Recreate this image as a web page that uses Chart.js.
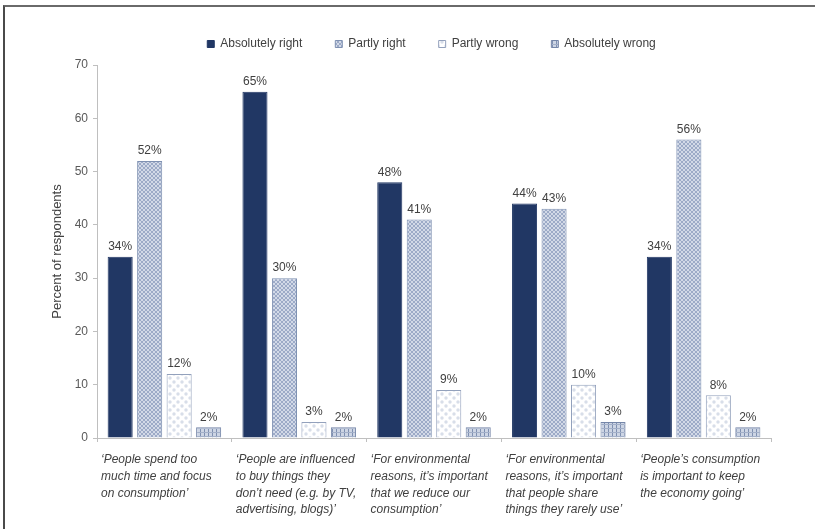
<!DOCTYPE html>
<html>
<head>
<meta charset="utf-8">
<script src="https://cdn.jsdelivr.net/npm/chart.js@4.4.1/dist/chart.umd.min.js"></script>
<style>
html, body { margin: 0; padding: 0; background: #fff; }
#wrap { position: relative; width: 815px; height: 529px; overflow: hidden; }
#wrap canvas { position: absolute; left: 0; top: 0; }
#frame { position: absolute; left: 3px; top: 5px; right: -2px; bottom: -2px;
         border-left: 2px solid #4a4a4a; border-top: 2px solid #6a6a6a; pointer-events: none; }
</style>
</head>
<body>
<div id="wrap">
  <canvas id="myBarChart" width="815" height="529"></canvas>
  <div id="frame"></div>
</div>
<script>
const categories = [
    ['‘People spend too', 'much time and focus', 'on consumption’'],
    ['‘People are influenced', 'to buy things they', 'don’t need (e.g. by TV,', 'advertising, blogs)’'],
    ['‘For environmental', 'reasons, it’s important', 'that we reduce our', 'consumption’'],
    ['‘For environmental', 'reasons, it’s important', 'that people share', 'things they rarely use’'],
    ['‘People’s consumption', 'is important to keep', 'the economy going’']
];
const seriesNames = ['Absolutely right', 'Partly right', 'Partly wrong', 'Absolutely wrong'];
const absolutelyRight = [34, 65, 48, 44, 34];
const partlyRight = [52, 30, 41, 43, 56];
const partlyWrong = [12, 3, 9, 10, 8];
const absolutelyWrong = [2, 2, 2, 3, 2];
const yTicks = [0, 10, 20, 30, 40, 50, 60, 70];

function makePattern(kind) {
    const c = document.createElement('canvas');
    const p = c.getContext('2d');
    if (kind === 'cross') {
        c.width = c.height = 4;
        p.fillStyle = '#d2d9e7';
        p.fillRect(0, 0, 4, 4);
        p.strokeStyle = '#95a5c3';
        p.lineWidth = 0.9;
        p.beginPath();
        p.moveTo(0, 0); p.lineTo(4, 4);
        p.moveTo(4, 0); p.lineTo(0, 4);
        p.stroke();
    } else if (kind === 'dots') {
        c.width = c.height = 8;
        p.fillStyle = '#ffffff';
        p.fillRect(0, 0, 8, 8);
        p.fillStyle = '#d8dee9';
        p.beginPath(); p.arc(2, 2, 1.7, 0, Math.PI * 2); p.fill();
        p.beginPath(); p.arc(6, 6, 1.7, 0, Math.PI * 2); p.fill();
    } else {
        c.width = c.height = 4;
        p.fillStyle = '#cdd5e4';
        p.fillRect(0, 0, 4, 4);
        p.fillStyle = '#7f90b1';
        p.fillRect(0, 0, 1, 4);
        p.fillStyle = '#a3b0c9';
        p.fillRect(0, 0, 4, 1);
    }
    return p.createPattern(c, 'repeat');
}

// percentage above each bar
const valueLabels = {
    id: 'valueLabels',
    afterDatasetsDraw(chart) {
        const ctx = chart.ctx;
        ctx.save();
        ctx.font = '12px "Liberation Sans", Arial, sans-serif';
        ctx.fillStyle = '#404040';
        ctx.textAlign = 'center';
        ctx.textBaseline = 'bottom';
        chart.data.datasets.forEach((ds, i) => {
            chart.getDatasetMeta(i).data.forEach((bar, j) => {
                ctx.fillText(ds.data[j] + '%', bar.x, bar.y - 4);
            });
        });
        ctx.restore();
    }
};

// italic statements under each group, left aligned to the group
const categoryLabels = {
    id: 'categoryLabels',
    afterDraw(chart) {
        const xs = chart.scales.x;
        const ctx = chart.ctx;
        const step = xs.width / chart.data.labels.length;
        ctx.save();
        ctx.font = 'italic 12px "Liberation Sans", Arial, sans-serif';
        ctx.fillStyle = '#404040';
        ctx.textAlign = 'left';
        ctx.textBaseline = 'middle';
        chart.data.labels.forEach((lines, i) => {
            const left = xs.getPixelForValue(i) - step / 2 + 4;
            lines.forEach((line, k) => ctx.fillText(line, left, xs.bottom + 18 + k * 16.6));
        });
        ctx.restore();
    }
};

// legend sits a bit right of centre and takes a fixed height
const legendPlace = {
    id: 'legendPlace',
    afterInit(chart) {
        const legend = chart.legend;
        const fit = legend.fit;
        legend.fit = function() {
            fit.call(this);
            this.height = 60;
        };
    },
    afterLayout(chart) {
        chart.legend.left += 26;
        chart.legend.right += 26;
    }
};

const barCtx = document.getElementById('myBarChart');
const fills = ['#213764', makePattern('cross'), makePattern('dots'), makePattern('grid')];
const borders = ['#213764', '#7f91b2', '#93a1bc', '#7586a8'];
const series = [absolutelyRight, partlyRight, partlyWrong, absolutelyWrong];

new Chart(barCtx, {
    type: 'bar',
    data: {
        labels: categories,
        datasets: series.map((values, i) => ({
            label: seriesNames[i],
            data: values,
            backgroundColor: fills[i],
            borderColor: borders[i],
            borderWidth: 1,
            categoryPercentage: 0.875,
            barPercentage: 0.85
        }))
    },
    options: {
        responsive: false,
        animation: false,
        devicePixelRatio: 1,
        layout: { padding: { top: 5, left: 40, right: 44, bottom: 87 } },
        plugins: {
            legend: {
                position: 'top',
                labels: {
                    boxWidth: 7,
                    boxHeight: 7,
                    padding: 33,
                    color: '#404040',
                    font: { family: '"Liberation Sans", Arial, sans-serif', size: 12 }
                }
            },
            tooltip: { enabled: false }
        },
        scales: {
            x: {
                offset: true,
                grid: { display: true, drawOnChartArea: false, drawTicks: true, tickLength: 4, color: '#bfbfbf', offset: true },
                border: { color: '#bfbfbf' },
                ticks: { display: false }
            },
            y: {
                min: 0,
                max: 70,
                afterBuildTicks: axis => { axis.ticks = yTicks.map(v => ({ value: v })); },
                afterFit: axis => { axis.width = 57; },
                grid: { display: true, drawOnChartArea: false, drawTicks: true, tickLength: 4, color: '#bfbfbf' },
                border: { color: '#bfbfbf' },
                ticks: {
                    padding: 5,
                    color: '#595959',
                    font: { family: '"Liberation Sans", Arial, sans-serif', size: 12 }
                },
                title: {
                    display: true,
                    text: 'Percent of respondents',
                    color: '#404040',
                    padding: { top: 10, bottom: 0 },
                    font: { family: '"Liberation Sans", Arial, sans-serif', size: 13 }
                }
            }
        }
    },
    plugins: [valueLabels, categoryLabels, legendPlace]
});
</script>
</body>
</html>
